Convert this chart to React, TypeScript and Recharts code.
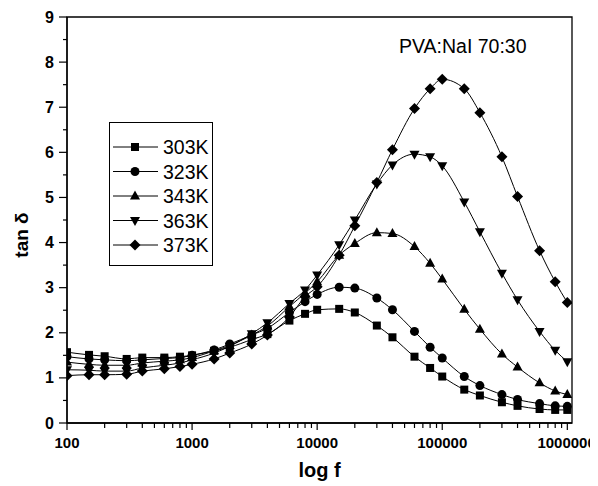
import React from 'react';
import { LineChart, Line, XAxis, YAxis, ReferenceArea, Legend } from 'recharts';

const freqs = [100, 150, 200, 300, 400, 600, 800, 1000, 1500, 2000, 3000, 4000, 6000, 8000, 10000, 15000, 20000, 30000, 40000, 60000, 80000, 100000, 150000, 200000, 300000, 400000, 600000, 800000, 1000000];

const k303 = [1.57, 1.51, 1.48, 1.42, 1.45, 1.45, 1.47, 1.5, 1.6, 1.68, 1.85, 1.97, 2.27, 2.42, 2.51, 2.53, 2.45, 2.16, 1.9, 1.47, 1.22, 1.03, 0.74, 0.61, 0.46, 0.38, 0.31, 0.29, 0.29];
const k323 = [1.47, 1.42, 1.4, 1.38, 1.4, 1.43, 1.45, 1.5, 1.62, 1.75, 1.95, 2.1, 2.45, 2.69, 2.85, 3.01, 2.99, 2.77, 2.51, 2.03, 1.68, 1.44, 1.03, 0.83, 0.63, 0.52, 0.43, 0.38, 0.37];
const k343 = [1.35, 1.3, 1.28, 1.28, 1.33, 1.37, 1.4, 1.45, 1.6, 1.72, 1.95, 2.15, 2.58, 2.88, 3.13, 3.72, 3.98, 4.22, 4.2, 3.91, 3.54, 3.19, 2.52, 2.08, 1.53, 1.24, 0.89, 0.71, 0.63];
const k363 = [1.18, 1.17, 1.15, 1.15, 1.22, 1.28, 1.33, 1.4, 1.55, 1.7, 1.98, 2.22, 2.65, 2.95, 3.28, 3.95, 4.5, 5.3, 5.72, 5.96, 5.9, 5.7, 4.9, 4.24, 3.32, 2.73, 2.03, 1.61, 1.36];
const k373 = [1.05, 1.07, 1.07, 1.08, 1.15, 1.2, 1.25, 1.3, 1.42, 1.55, 1.75, 1.95, 2.35, 2.8, 3.02, 3.72, 4.37, 5.33, 6.06, 6.97, 7.41, 7.62, 7.41, 6.88, 5.9, 5.02, 3.82, 3.13, 2.67];

const seriesNames = ['303K', '323K', '343K', '363K', '373K'];
const seriesKeys = ['k303', 'k323', 'k343', 'k363', 'k373'];
const seriesShapes = ['square', 'circle', 'triangle', 'down', 'diamond'];

const xMajorTicks = [100, 1000, 10000, 100000, 1000000];
const xAllTicks = [
  100, 200, 300, 400, 500, 600, 700, 800, 900,
  1000, 2000, 3000, 4000, 5000, 6000, 7000, 8000, 9000,
  10000, 20000, 30000, 40000, 50000, 60000, 70000, 80000, 90000,
  100000, 200000, 300000, 400000, 500000, 600000, 700000, 800000, 900000,
  1000000,
];
const yAllTicks = [0, 0.5, 1, 1.5, 2, 2.5, 3, 3.5, 4, 4.5, 5, 5.5, 6, 6.5, 7, 7.5, 8, 8.5, 9];

const xMax = 1090000;

const data = freqs.map((f, i) => ({
  f,
  k303: k303[i],
  k323: k323[i],
  k343: k343[i],
  k363: k363[i],
  k373: k373[i],
}));

const FONT = '"Liberation Sans", Arial, sans-serif';

function Marker({ shape, cx, cy }: { shape: string; cx: number; cy: number }) {
  if (cx == null || cy == null || isNaN(cx) || isNaN(cy)) return null;
  switch (shape) {
    case 'square':
      return <rect x={cx - 4} y={cy - 4} width={8} height={8} fill="#000" />;
    case 'circle':
      return <circle cx={cx} cy={cy} r={4.5} fill="#000" />;
    case 'triangle':
      return <polygon points={`${cx},${cy - 5.5} ${cx + 5},${cy + 3.5} ${cx - 5},${cy + 3.5}`} fill="#000" />;
    case 'down':
      return <polygon points={`${cx},${cy + 5.5} ${cx + 5},${cy - 3.5} ${cx - 5},${cy - 3.5}`} fill="#000" />;
    default:
      return <polygon points={`${cx},${cy - 5.5} ${cx + 5.5},${cy} ${cx},${cy + 5.5} ${cx - 5.5},${cy}`} fill="#000" />;
  }
}

function XTick(props: any) {
  const { x, y, payload } = props;
  const major = xMajorTicks.includes(payload.value);
  const last = payload.value === 1000000;
  return (
    <g>
      <line x1={x} y1={y} x2={x} y2={y + (major ? 7 : 5)} stroke="#000" strokeWidth={1.2} />
      {major && (
        <text
          x={last ? x + 28.5 : x}
          y={y + 25}
          textAnchor={last ? 'end' : 'middle'}
          fontFamily={FONT}
          fontWeight="bold"
          fontSize={15}
          fill="#000"
        >
          {payload.value}
        </text>
      )}
    </g>
  );
}

function YTick(props: any) {
  const { x, y, payload } = props;
  const major = Number.isInteger(payload.value);
  return (
    <g>
      <line x1={x} y1={y} x2={x - (major ? 8 : 4)} y2={y} stroke="#000" strokeWidth={1.2} />
      {major && (
        <text x={x - 13} y={y + 5.5} textAnchor="end" fontFamily={FONT} fontWeight="bold" fontSize={16} fill="#000">
          {payload.value}
        </text>
      )}
    </g>
  );
}

function XLabel(props: any) {
  const vb = props.viewBox || {};
  const cx = (vb.x ?? 0) + (vb.width ?? 0) / 2;
  return (
    <text x={cx} y={469} textAnchor="middle" fontFamily={FONT} fontWeight="bold" fontSize={20} fill="#000">
      log f
    </text>
  );
}

function YLabel() {
  return (
    <text
      x={0}
      y={0}
      transform="translate(20, 227) rotate(-90)"
      textAnchor="middle"
      fontFamily={FONT}
      fontWeight="bold"
      fontSize={19}
      fill="#000"
    >
      tan δ
    </text>
  );
}

function LegendBox() {
  return (
    <svg width={104} height={144} style={{ display: 'block' }}>
      <rect x={0.5} y={0.5} width={103} height={143} fill="#fff" stroke="#000" strokeWidth={1} />
      {seriesNames.map((name, i) => {
        const cy = 25 + i * 24.5;
        return (
          <g key={name}>
            <line x1={4} y1={cy} x2={49} y2={cy} stroke="#000" strokeWidth={1} />
            <Marker shape={seriesShapes[i]} cx={26} cy={cy} />
            <text x={54} y={cy + 7} fontFamily={FONT} fontSize={19.5} fill="#000">
              {name}
            </text>
          </g>
        );
      })}
    </svg>
  );
}

export default function App() {
  return (
    <div style={{ position: 'relative', width: 590, height: 478 }}>
      <style>{`svg { overflow: visible; }`}</style>
      <LineChart
        width={590}
        height={478}
        data={data}
        margin={{ top: 9, right: 26, bottom: 0, left: 0 }}
      >
        <XAxis
          dataKey="f"
          type="number"
          scale="log"
          domain={[100, xMax]}
          allowDataOverflow
          ticks={xAllTicks}
          interval={0}
          tick={<XTick />}
          tickLine={false}
          tickSize={0}
          tickMargin={0}
          height={63}
          axisLine={{ stroke: '#000', strokeWidth: 1.3 }}
          label={{ content: (p: any) => <XLabel {...p} /> }}
        />
        <YAxis
          type="number"
          domain={[0, 9]}
          ticks={yAllTicks}
          interval={0}
          tick={<YTick />}
          tickLine={false}
          tickSize={0}
          tickMargin={0}
          width={59}
          axisLine={{ stroke: '#000', strokeWidth: 1.3 }}
          label={{ content: () => <YLabel /> }}
        />
        <ReferenceArea x1={100} x2={xMax} y1={0} y2={9} fill="none" fillOpacity={0} stroke="#000" strokeWidth={1.3} ifOverflow="visible" />
        {seriesKeys.map((key, i) => (
          <Line
            key={key}
            dataKey={key}
            name={seriesNames[i]}
            type="monotone"
            stroke="#000"
            strokeWidth={1}
            isAnimationActive={false}
            activeDot={false}
            dot={(p: any) => (
              <Marker key={`${key}-${p.index}`} shape={seriesShapes[i]} cx={p.cx} cy={p.cy} />
            )}
          />
        ))}
        <Legend
          layout="vertical"
          align="center"
          verticalAlign="middle"
          content={() => <LegendBox />}
          wrapperStyle={{ position: 'absolute', left: 101, top: 114, width: 104, height: 144 }}
        />
      </LineChart>
      <div
        style={{
          position: 'absolute',
          left: 391,
          top: 29,
          fontFamily: FONT,
          fontSize: 19.5,
          color: '#000',
          whiteSpace: 'nowrap',
          lineHeight: 1,
          pointerEvents: 'none',
        }}
      >
        PVA:NaI 70:30
      </div>
    </div>
  );
}
